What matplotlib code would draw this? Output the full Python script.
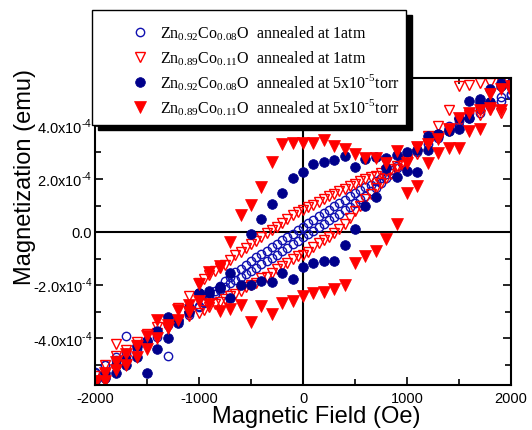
import numpy as np
import matplotlib
matplotlib.use("Agg")
import matplotlib.pyplot as plt
from matplotlib.lines import Line2D
from matplotlib.patches import Rectangle

plt.rcParams['font.family'] = 'Liberation Sans'
plt.rcParams['mathtext.fontset'] = 'custom'
plt.rcParams['mathtext.rm'] = 'Liberation Serif'
plt.rcParams['mathtext.sf'] = 'Liberation Sans'

# field sweeps (Oe): +2000 -> -2000 then back
field_open_down = [2000, 1900, 1800, 1700, 1600, 1500, 1400, 1300, 1200, 1100,
                   1000, 950, 900, 850, 800, 750, 700, 650, 600, 550, 500,
                   450, 400, 350, 300, 250, 200, 150, 100, 50, 0,
                   -50, -100, -150, -200, -250, -300, -350, -400, -450, -500,
                   -550, -600, -650, -700, -750, -800, -850, -900, -950, -1000,
                   -1100, -1200, -1300, -1400, -1500, -1600, -1700, -1800, -1900, -2000]
field_open_up = field_open_down[::-1]

field_filled_down = [2000, 1900, 1800, 1700, 1600, 1500, 1400, 1300, 1200, 1100,
                     1000, 900, 800, 700, 600, 500, 400, 300, 200, 100, 0,
                     -100, -200, -300, -400, -500, -600, -700, -800, -900, -1000,
                     -1100, -1200, -1300, -1400, -1500, -1600, -1700, -1800, -1900, -2000]
field_filled_up = field_filled_down[::-1]

# magnetization in units of 1e-4 emu
# Zn0.92Co0.08O, 1 atm
m_092_atm_down = [5.20, 5.10, 4.90, 4.65, 4.50, 4.20, 4.00, 3.70, 3.45, 3.10,
                  2.80, 2.65, 2.48, 2.34, 2.18, 2.05, 1.91, 1.79, 1.70, 1.57, 1.48,
                  1.36, 1.22, 1.10, 0.97, 0.85, 0.71, 0.59, 0.46, 0.34, 0.20,
                  0.08, -0.06, -0.17, -0.31, -0.43, -0.57, -0.70, -0.82, -0.94, -1.08,
                  -1.23, -1.37, -1.51, -1.67, -1.85, -2.02, -2.20, -2.41, -2.61, -2.80,
                  -3.10, -3.35, -3.50, -3.80, -4.05, -4.30, -4.55, -4.80, -5.00, -5.30]
m_092_atm_up = [-5.25, -5.00, -4.70, -3.90, -4.40, -4.10, -3.95, -4.65, -3.30, -3.05,
                -2.79, -2.65, -2.48, -2.34, -2.17, -2.05, -1.90, -1.80, -1.68, -1.58, -1.47,
                -1.36, -1.21, -1.10, -0.96, -0.85, -0.70, -0.59, -0.45, -0.34, -0.20,
                -0.06, 0.06, 0.19, 0.31, 0.45, 0.57, 0.70, 0.82, 0.96, 1.08,
                1.23, 1.37, 1.53, 1.67, 1.85, 2.02, 2.22, 2.41, 2.61, 2.81,
                3.00, 3.30, 3.55, 3.80, 4.00, 4.30, 4.50, 4.75, 4.95, 5.15]

# Zn0.89Co0.11O, 1 atm
m_089_atm_down = [5.75, 5.70, 5.60, 5.60, 5.55, 5.50, 4.60, 4.00, 3.60, 3.20,
                  2.75, 2.62, 2.50, 2.39, 2.30, 2.22, 2.13, 2.07, 2.00, 1.91, 1.82,
                  1.73, 1.64, 1.55, 1.45, 1.35, 1.25, 1.14, 1.04, 0.94, 0.83,
                  0.75, 0.64, 0.50, 0.35, 0.20, 0.08, -0.05, -0.18, -0.35, -0.46,
                  -0.60, -0.73, -0.86, -1.05, -1.22, -1.35, -1.47, -1.60, -1.75, -1.92,
                  -2.40, -2.85, -3.30, -3.55, -3.85, -4.25, -4.45, -4.65, -5.00, -5.40]
m_089_atm_up = [-5.60, -5.30, -4.20, -4.80, -4.15, -4.30, -3.80, -3.60, -3.35, -3.15,
                -3.05, -2.93, -2.82, -2.72, -2.62, -2.51, -2.41, -2.31, -2.20, -2.08, -1.97,
                -1.90, -1.73, -1.67, -1.54, -1.38, -1.27, -1.15, -1.02, -0.91, -0.85,
                -0.74, -0.57, -0.41, -0.29, -0.17, -0.03, 0.11, 0.30, 0.55, 0.78,
                1.00, 1.24, 1.45, 1.66, 1.86, 2.04, 2.20, 2.36, 2.52, 2.68,
                2.95, 3.30, 3.60, 3.90, 4.10, 4.40, 4.40, 4.60, 4.50, 5.30]

# Zn0.92Co0.08O, 5x10^-5 torr
field_092_torr_down = [2000, 1900, 1800, 1700, 1600, 1500, 1400, 1300, 1200, 1100,
                       1000, 900, 800, 700, 600, 500, 400, 300, 200, 100, 0,
                       -100, -200, -300, -400, -500, -700, -800, -900, -1000,
                       -1100, -1200, -1300, -1400, -1500, -1600, -1700, -1800, -1900, -2000]
m_092_torr_down = [5.50, 5.60, 5.40, 4.90, 4.95, 4.30, 3.90, 3.70, 3.60, 3.10,
                   3.00, 2.90, 2.80, 2.83, 2.75, 2.45, 2.87, 2.71, 2.64, 2.56, 2.26,
                   2.04, 1.47, 1.06, 0.49, -0.08, -1.55, -2.07, -2.30, -2.30,
                   -2.80, -3.30, -3.20, -3.70, -4.10, -4.30, -4.80, -5.00, -5.30, -5.60]
m_092_torr_up = [-5.80, -5.50, -5.30, -5.00, -4.70, -5.30, -4.40, -4.00, -3.40, -3.00,
                 -2.30, -2.20, -2.10, -2.49, -2.00, -2.00, -1.85, -1.88, -1.55, -1.77, -1.32,
                 -1.17, -1.09, -1.09, -0.49, 0.11, 0.98, 1.32, 2.41, 2.07, 2.30,
                 2.26, 3.10, 3.60, 3.80, 3.90, 4.30, 5.00, 4.90, 5.50, 5.60]

# Zn0.89Co0.11O, 5x10^-5 torr
m_089_torr_down = [5.50, 5.40, 5.20, 4.60, 4.50, 4.30, 3.90, 3.50, 3.30, 3.20,
                   2.60, 3.05, 2.60, 2.79, 2.79, 2.94, 3.13, 3.24, 3.47, 3.36, 3.36,
                   3.36, 3.32, 2.64, 1.70, 1.02, 0.64, -0.38, -1.28, -1.50, -1.96,
                   -2.75, -2.94, -3.50, -3.30, -3.90, -4.30, -4.60, -4.90, -5.30, -5.60]
m_089_torr_up = [-5.70, -5.60, -5.20, -5.00, -4.70, -4.40, -4.00, -3.60, -3.30, -3.00,
                 -2.60, -2.70, -2.95, -2.90, -2.75, -3.39, -2.79, -3.09, -2.68, -2.60, -2.41,
                 -2.30, -2.26, -2.15, -2.00, -1.17, -0.90, -0.72, -0.26, 0.30, 1.47,
                 1.73, 2.60, 2.98, 3.17, 3.17, 3.80, 3.88, 4.67, 4.60, 5.30]

labels = ['Zn$_{\\mathrm{0.92}}$Co$_{\\mathrm{0.08}}$O  annealed at 1atm',
          'Zn$_{\\mathrm{0.89}}$Co$_{\\mathrm{0.11}}$O  annealed at 1atm',
          'Zn$_{\\mathrm{0.92}}$Co$_{\\mathrm{0.08}}$O  annealed at 5x10$^{\\mathrm{\u20105}}$torr',
          'Zn$_{\\mathrm{0.89}}$Co$_{\\mathrm{0.11}}$O  annealed at 5x10$^{\\mathrm{\u20105}}$torr']

y_ticks = [-4e-4, -2e-4, 0, 2e-4, 4e-4]
y_tick_labels = ['-4.0x10$^{\\mathsf{\u20104}}$', '-2.0x10$^{\\mathsf{\u20104}}$', '0.0',
                 '2.0x10$^{\\mathsf{\u20104}}$', '4.0x10$^{\\mathsf{\u20104}}$']
x_ticks = [-2000, -1000, 0, 1000, 2000]
x_tick_labels = ['-2000', '-1000', '0', '1000', '2000']

blue = '#00008b'
red = '#ff0000'
styles = [dict(marker='o', ms=6, mfc='none', mec='#1010b0', mew=1.0),
          dict(marker='v', ms=7, mfc='none', mec=red, mew=1.0),
          dict(marker='o', ms=7, mfc=blue, mec=blue, mew=0.5),
          dict(marker='v', ms=8, mfc=red, mec=red, mew=0.5)]

fig = plt.figure(figsize=(5.32, 4.30), dpi=100)
ax = fig.add_axes([95 / 532, 1 - 385 / 430, 416 / 532, 307 / 430])

ax.axhline(0, color='k', lw=1.5, zorder=1.5)
ax.axvline(0, color='k', lw=1.5, zorder=1.5)

series = [
    (field_open_down + field_open_up, m_092_atm_down + m_092_atm_up),
    (field_open_down + field_open_up, m_089_atm_down + m_089_atm_up),
    (field_092_torr_down + field_filled_up, m_092_torr_down + m_092_torr_up),
    (field_filled_down + field_filled_up, m_089_torr_down + m_089_torr_up),
]
for (h, m), style in zip(series, styles):
    ax.plot(h, np.array(m) * 1e-4, ls='none', zorder=2, **style)

ax.set_xlim(-2000, 2000)
ax.set_ylim(-5.75e-4, 5.8e-4)

ax.set_xticks(x_ticks, labels=x_tick_labels)
ax.set_xticks([-1500, -500, 500, 1500], minor=True)
ax.set_yticks(y_ticks, labels=y_tick_labels)
ax.set_yticks([-5e-4, -3e-4, -1e-4, 1e-4, 3e-4, 5e-4], minor=True)
ax.tick_params(which='both', direction='in', top=True, right=True, width=1.2, labelsize=10.5)
ax.tick_params(which='major', length=6)
ax.tick_params(which='minor', length=4)
ax.tick_params(axis='x', pad=5)
ax.tick_params(axis='y', pad=2)
for sp in ax.spines.values():
    sp.set_linewidth(1.5)

ax.set_xlabel('Magnetic Field (Oe)', fontsize=17)
ax.set_ylabel('Magnetization (emu)', fontsize=17)
ax.xaxis.set_label_coords(0.531, -0.07)
ax.yaxis.set_label_coords(-0.142, 0.677)

# legend: white box with a solid drop shadow, entries placed row by row
W, H = 532, 430
fig.add_artist(Rectangle((98 / W, 1 - 130 / H), 314 / W, 115 / H, transform=fig.transFigure,
                         facecolor='k', edgecolor='k', zorder=3))
fig.add_artist(Rectangle((92 / W, 1 - 125 / H), 314 / W, 115 / H, transform=fig.transFigure,
                         facecolor='white', edgecolor='k', lw=1.0, zorder=3.1))
for i, (label, style) in enumerate(zip(labels, styles)):
    row_y = 32 + 25 * i
    fig.add_artist(Line2D([140 / W], [1 - row_y / H], transform=fig.transFigure,
                          ls='none', zorder=4, **style))
    fig.text(160 / W, 1 - (row_y + 6) / H, label, ha='left', va='baseline',
             family='Liberation Serif', size=11.5, zorder=4)

fig.savefig('out.png', dpi=100)
